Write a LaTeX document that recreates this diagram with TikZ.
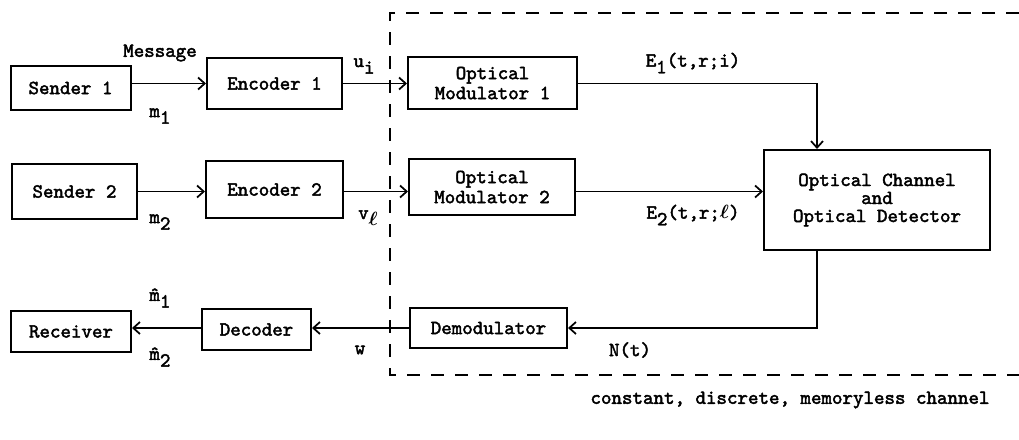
\documentclass[tikz,border=0pt]{standalone}
\usepackage{amsmath}
\usepackage{fontspec}
\newfontfamily\tw[AutoFakeBold=2.2]{lmmono10-regular.otf}
\usetikzlibrary{arrows.meta,calc}
\newcommand\dn[1]{\raisebox{-5pt}{#1}}
\begin{document}
\begin{tikzpicture}[x=0.75pt,y=-0.75pt,
  txt/.style={font=\tw\bfseries\fontsize{15}{15}\selectfont},
  box/.style={txt,draw,line width=1.5pt,inner sep=0pt,align=center},
  lbl/.style={txt,inner sep=0pt},
  conn/.style={line width=1.3pt,-{Straight Barb[length=5pt,width=9pt,line width=1.3pt]}},
  dashbox/.style={line width=1.5pt,dash pattern=on 10pt off 8pt}]
\useasboundingbox (0,0) rectangle (1019,439);

% dashed channel boundary
\draw[dashbox] (1019,13) -- (390,13) -- (390,375) -- (1019,375);

% boxes
\node[box,minimum width=90pt,minimum height=33pt] (s1) at (70.5,88) {Sender 1};
\node[box,minimum width=101.25pt,minimum height=38.25pt] (e1) at (274.5,83.5) {Encoder 1};
\node[box,minimum width=126.75pt,minimum height=39pt] (om1) at (492.5,83) {Optical\\Modulator 1};
\node[box,minimum width=169.5pt,minimum height=75pt] (ch) at (877,200) {Optical Channel\\[-1.5pt]and\\[-1.5pt]Optical Detector};
\node[box,minimum width=93.75pt,minimum height=41.25pt] (s2) at (74.5,191.5) {Sender 2};
\node[box,minimum width=102.75pt,minimum height=42.75pt] (e2) at (274.5,189.5) {Encoder 2};
\node[box,minimum width=124.5pt,minimum height=42pt] (om2) at (492,187) {Optical\\Modulator 2};
\node[box,minimum width=90pt,minimum height=30.75pt] (rcv) at (71,331.5) {Receiver};
\node[box,minimum width=81.75pt,minimum height=30.75pt] (dec) at (256.5,329.5) {Decoder};
\node[box,minimum width=117.75pt,minimum height=30pt] (dem) at (488.5,328) {Demodulator};

\coordinate (col) at (817,0);

% connectors
\draw[conn] (s1.east |- e1.west) -- (e1.west);
\draw[conn] (e1.east) -- (e1.east -| om1.west);
\draw[conn] (om1.east |- e1.east) -| (ch.north -| col);
\draw[conn] (s2.east) -- (s2.east -| e2.west);
\draw[conn] (s2.east -| e2.east) -- (s2.east -| om2.west);
\draw[conn] (s2.east -| om2.east) -- (s2.east -| ch.west);
\draw[conn] (ch.south -| col) |- (dem.east);
\draw[conn] (dem.west) -- (dem.west -| dec.east);
\draw[conn] (dem.west -| dec.west) -- (dem.west -| rcv.east);

% labels
\node[lbl] (msg) at (160,53) {Message};
\node[lbl] (m1) at (160,116) {m\dn{1}};
\node[lbl] (ui) at (364,66) {u\dn{i}};
\node[lbl] (m2) at (160,222) {m\dn{2}};
\node[lbl] (vl) at (368,218) {v\dn{$\boldsymbol\ell$}};
\node[lbl] (E1) at (693,63) {E\dn{1}(t,r;i)};
\node[lbl] (E2) at (693,215) {E\dn{2}(t,r;$\boldsymbol\ell$)};
\node[lbl] (Nt) at (630,350) {N(t)};
\node[lbl] (w) at (360,350) {w};
\node[lbl] (mh1) at (160,298) {\^{m}\dn{1}};
\node[lbl] (mh2) at (160,357) {\^{m}\dn{2}};
\node[lbl] (cap) at (790,400) {constant, discrete, memoryless channel};
\end{tikzpicture}
\end{document}
